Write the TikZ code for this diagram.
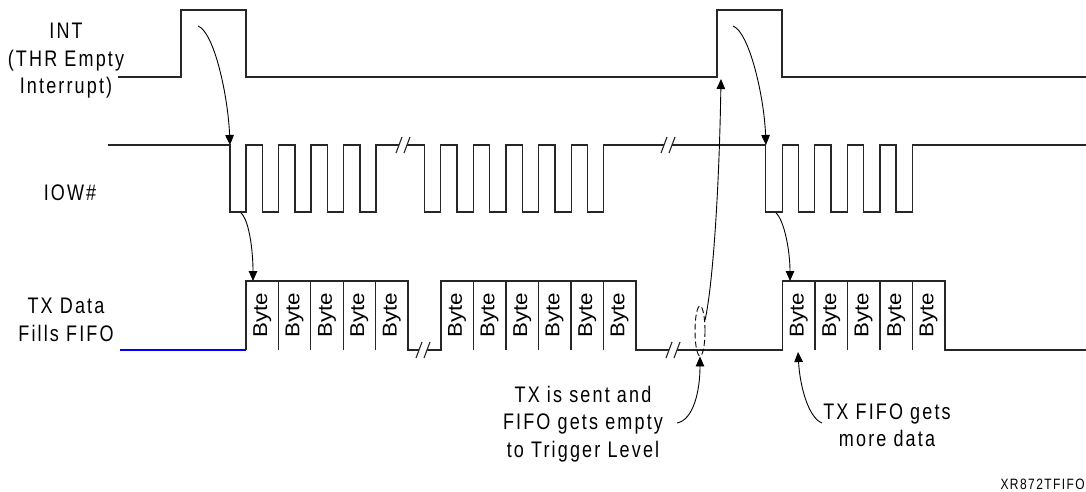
\documentclass[tikz,border=0pt]{standalone}
\usepackage{fontspec}
\usepackage{graphicx}
\setmainfont{Liberation Sans}
\newfontfamily\lblfont[LetterSpace=12]{Liberation Sans}
\usetikzlibrary{arrows.meta,shapes.geometric}
\newcommand{\tallt}[1]{\scalebox{1}[1.25]{#1}}
\newcommand{\bytet}{\scalebox{1.12}[1]{Byte}}
\tikzset{
  sig/.style={line width=1.3pt,color=black!85},
  bluesig/.style={line width=1.3pt,color=blue},
  arr/.style={line width=0.9pt,-{Triangle[length=10pt,width=8.5pt]}},
  lbl/.style={font=\lblfont\fontsize{18}{27.5}\selectfont,align=center,inner sep=0pt},
  bytelbl/.style={font=\fontsize{20}{21}\selectfont,rotate=90,inner sep=0pt},
  brkmark/.style={line width=1.1pt,color=black!85},
}
\newcommand{\brk}[2]{%
  \draw[brkmark] (#1-7,#2+8) -- (#1-1,#2-8);
  \draw[brkmark] (#1+1,#2+8) -- (#1+7,#2-8);}
\begin{document}
\begin{tikzpicture}[x=1pt,y=-1pt]
\useasboundingbox (0,0) rectangle (1086,491);
% labels
\node[lbl] (lint) at (66,61) {\tallt{INT}\\\tallt{(THR Empty}\\\tallt{Interrupt)}};
\node[lbl] (liow) at (70,193) {\tallt{IOW\#}};
\node[lbl] (ltx) at (66,320) {\tallt{TX Data}\\\tallt{Fills FIFO}};
\node[lbl] (lsent) at (583,424) {\tallt{TX is sent and}\\\tallt{FIFO gets empty}\\\tallt{to Trigger Level}};
\node[lbl] (lmore) at (887,425) {\tallt{TX FIFO gets}\\\tallt{more data}};
\node[lbl,anchor=east,font=\lblfont\fontsize{12}{14}\selectfont] (lref) at (1085,484) {\tallt{XR872TFIFO}};
% INT signal
\draw[sig] (118,77) -- (181,77) -- (181,10) -- (246,10) -- (246,77) -- (717,77) -- (717,10) -- (782,10) -- (782,77) -- (1086,77);
% IOW signal
\draw[sig] (108,145) foreach \i in {0,...,4} { -- (230+32.5*\i,145) -- (230+32.5*\i,212) -- (246+32.5*\i,212) -- (246+32.5*\i,145) } -- (399,145);
\draw[sig] (407,145) foreach \i in {0,...,5} { -- (424.5+32.6*\i,145) -- (424.5+32.6*\i,212) -- (440.8+32.6*\i,212) -- (440.8+32.6*\i,145) } -- (664,145);
\draw[sig] (672,145) foreach \i in {0,...,4} { -- (765.7+32.6*\i,145) -- (765.7+32.6*\i,212) -- (782.2+32.6*\i,212) -- (782.2+32.6*\i,145) } -- (1086,145);
\brk{403}{145}
\brk{668}{145}
% data line
\draw[bluesig] (120,350) -- (246,350);
\draw[sig] (246,350) -- (246,281) -- (408,281) -- (408,350) -- (419,350);
\draw[sig] (427,350) -- (441,350) -- (441,281) -- (636,281) -- (636,350) -- (669,350);
\draw[sig] (677,350) -- (782.5,350) -- (782.5,281) -- (945,281) -- (945,350) -- (1086,350);
\brk{423}{350}
\brk{673}{350}
% byte dividers
\foreach \x in {278.4,310.8,343.2,375.6,473.3,506,538.3,571,603.3,815,847.3,880,912.3}
  \draw[sig] (\x,281) -- (\x,350);
% byte labels
\foreach \x [count=\n] in {262.2,294.6,327,359.4,391.8}
  \node[bytelbl] (ba\n) at (\x,315.5) {\bytet};
\foreach \x [count=\n] in {457,489.6,522.2,554.6,587.2,619.6}
  \node[bytelbl] (bb\n) at (\x,315.5) {\bytet};
\foreach \x [count=\n] in {798.8,831.2,863.6,896.2,928.6}
  \node[bytelbl] (bc\n) at (\x,315.5) {\bytet};
% dashed ellipse
\node[draw,dashed,ellipse,line width=0.9pt,minimum width=10pt,minimum height=50pt,inner sep=0pt,dash pattern=on 6pt off 3pt] (el) at (700,331) {};
% arrow coordinates
\coordinate (a1s) at (198,26);
\coordinate (a1e) at (230,145);
\coordinate (a2s) at (241,213);
\coordinate (a2e) at (253,281);
\coordinate (a3s) at (733,26);
\coordinate (a3e) at (766,145);
\coordinate (a4s) at (776,213);
\coordinate (a4e) at (790,281);
\coordinate (a5e) at (721,79);
\coordinate (a6s) at (677,423);
\coordinate (a7s) at (822,423);
\coordinate (a7e) at (798,352);
% arrows
\draw[arr] (a1s) .. controls (214,32) and (228,95) .. (a1e);
\draw[arr] (a2s) .. controls (249,220) and (253,250) .. (a2e);
\draw[arr] (a3s) .. controls (749,32) and (764,95) .. (a3e);
\draw[arr] (a4s) .. controls (784,220) and (790,250) .. (a4e);
\draw[arr] (el.65) .. controls (712,290) and (719,200) .. (a5e);
\draw[arr] (a6s) .. controls (693,420) and (700,392) .. (el.south);
\draw[arr] (a7s) .. controls (809,418) and (800,388) .. (a7e);
\end{tikzpicture}
\end{document}
